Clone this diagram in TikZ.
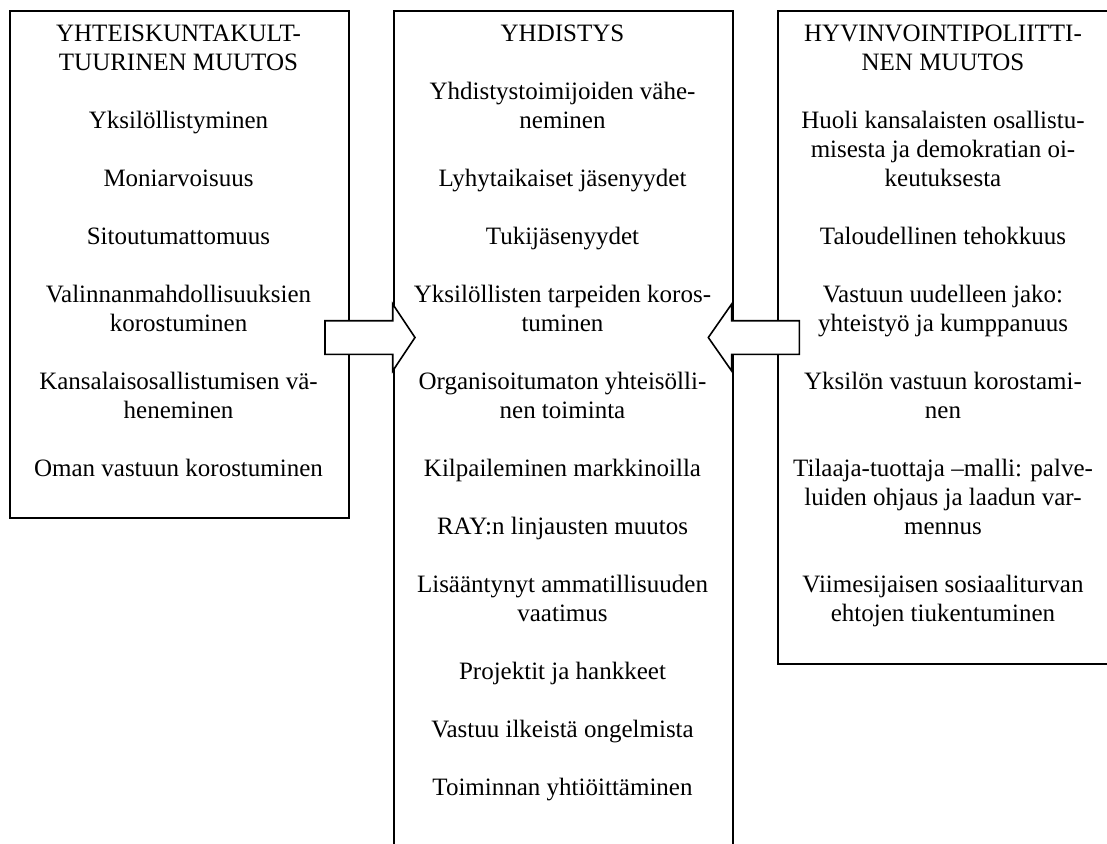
\documentclass[tikz,border=0pt]{standalone}
\usepackage{fontspec}
\setmainfont{Liberation Serif}
\usepackage{tikz}
\usetikzlibrary{positioning}
\tikzset{x=1pt, y=-1pt, % one unit is one pixel of the page, y runs down
box/.style={draw, line width=1.8pt, anchor=north west, inner sep=0pt}, % the three frames
boxtext/.style={anchor=north, align=center, inner sep=0pt, font=\fontsize{25}{29}\selectfont}, % text of a frame
blockarrow/.style={draw, fill=white, line width=1.6pt, line join=miter}, % the hollow arrows
}

\begin{document}
\begin{tikzpicture}
\useasboundingbox (0,0) rectangle (1107,843);
\node[box, minimum width=339pt, minimum height=507pt] (kulttuuri) at (9,10) {};
\node[box, minimum width=339pt, minimum height=845pt] (yhdistys) at (393,10) {};
\node[box, minimum width=332pt, minimum height=653pt] (politiikka) at (777,10) {};

\node[boxtext] (kulttuuriteksti) at (178.5,25) {YHTEISKUNTAKULT-\\TUURINEN MUUTOS\\[29pt]
Yksilöllistyminen\\[29pt]
Moniarvoisuus\\[29pt]
Sitoutumattomuus\\[29pt]
Valinnanmahdollisuuksien\\korostuminen\\[29pt]
Kansalaisosallistumisen vä-\\heneminen\\[29pt]
Oman vastuun korostuminen};

\node[boxtext] (yhdistysteksti) at (562.5,25) {YHDISTYS\\[29pt]
Yhdistystoimijoiden vähe-\\neminen\\[29pt]
Lyhytaikaiset jäsenyydet\\[29pt]
Tukijäsenyydet\\[29pt]
Yksilöllisten tarpeiden koros-\\tuminen\\[29pt]
Organisoitumaton yhteisölli-\\nen toiminta\\[29pt]
Kilpaileminen markkinoilla\\[29pt]
RAY:n linjausten muutos\\[29pt]
Lisääntynyt ammatillisuuden\\vaatimus\\[29pt]
Projektit ja hankkeet\\[29pt]
Vastuu ilkeistä ongelmista\\[29pt]
Toiminnan yhtiöittäminen};

\node[boxtext] (politiikkateksti) at (943,25) {HYVINVOINTIPOLIITTI-\\NEN MUUTOS\\[29pt]
Huoli kansalaisten osallistu-\\misesta ja demokratian oi-\\keutuksesta\\[29pt]
Taloudellinen tehokkuus\\[29pt]
Vastuun uudelleen jako:\\yhteistyö ja kumppanuus\\[29pt]
Yksilön vastuun korostami-\\nen\\[29pt]
Tilaaja-tuottaja –malli: palve-\\luiden ohjaus ja laadun var-\\mennus\\[29pt]
Viimesijaisen sosiaaliturvan\\ehtojen tiukentuminen};

% hollow arrows into the middle frame
\draw[blockarrow] (325,320.7) -- (392.7,320.7) -- (392.7,304) -- (415,337.5)
  -- (392.7,371) -- (392.7,354.3) -- (325,354.3) -- cycle;
\draw[blockarrow] (799.3,320.7) -- (731.7,320.7) -- (731.7,304) -- (708.3,337.5)
  -- (731.7,371) -- (731.7,354.3) -- (799.3,354.3) -- cycle;
\end{tikzpicture}
\end{document}
